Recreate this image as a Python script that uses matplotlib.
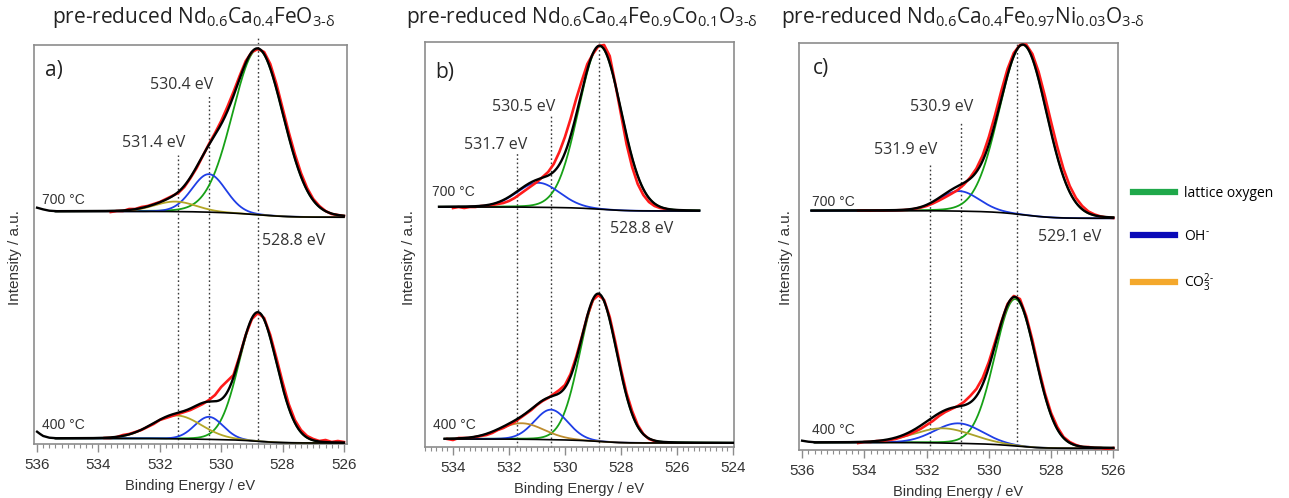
import numpy as np
import matplotlib
matplotlib.use("Agg")
import matplotlib.pyplot as plt
from matplotlib.lines import Line2D
from matplotlib.ticker import MultipleLocator, FormatStrFormatter

plt.rcParams['font.family'] = ['Liberation Sans', 'DejaVu Sans']
plt.rcParams['mathtext.fontset'] = 'custom'
plt.rcParams['mathtext.rm'] = 'Open Sans'
plt.rcParams['mathtext.it'] = 'Open Sans:italic'
plt.rcParams['mathtext.bf'] = 'Open Sans:bold'
SANS = ['Open Sans', 'DejaVu Sans']

W, H = 1289, 498

# ---------------- O 1s fits: (centre / eV, height / a.u., FWHM / eV) ----------------
# (a) Nd0.6Ca0.4FeO3-d
a700_lattice = (528.8, 165.5, 1.95)
a700_oh = (530.4, 38.0, 1.3)
a700_co3 = (531.5, 10.0, 1.6)
a700_window = (535.4, 526.0)
a700_bg = (232.6, 226.8)
a700_edge_be = [536.0, 535.8, 535.6]
a700_edge = [236.3, 234.6, 233.3]
a700_meas_be = np.round(np.arange(533.6, 525.95, -0.2), 1)
a700_meas = [232, 233, 233, 235, 235, 237, 238, 240, 242, 245,
             248, 251, 257, 266, 276, 288, 300, 311, 323, 337,
             352, 368, 383, 392, 395, 392, 380, 360, 336, 312,
             290, 271, 256, 245, 238, 233, 230, 229, 228]

a400_lattice = (528.8, 128.7, 1.45)
a400_oh = (530.4, 22.5, 1.1)
a400_co3 = (531.45, 23.3, 1.9)
a400_window = (535.4, 526.0)
a400_bg = (5.6, 1.0)
a400_edge_be = [536.0, 535.9, 535.8, 535.6]
a400_edge = [12.3, 10.0, 8.0, 6.3]
a400_meas_be = np.round(np.arange(533.8, 525.95, -0.2), 1)
a400_meas = [6, 6, 7, 9, 10, 12, 14, 17, 20, 24,
             26, 28, 30, 32, 34, 37, 40, 44, 49, 57,
             63, 69, 88, 109, 125, 131, 126, 109, 86, 62,
             40, 24, 14, 8, 5, 3, 4, 2, 3, 2]

# (b) Nd0.6Ca0.4Fe0.9Co0.1O3-d
b700_lattice = (528.75, 163.0, 1.8)
b700_oh = (530.95, 24.5, 1.8)
b700_window = (534.5, 525.2)
b700_bg = (240.0, 236.0)
b700_meas_be = np.round(np.arange(534.0, 526.35, -0.2), 1)
b700_meas = [239, 240, 239, 240, 240, 241, 241, 242, 243, 244,
             246, 249, 253, 257, 261, 265, 270, 275, 283, 295,
             310, 328, 348, 366, 383, 393, 401, 402, 391, 363,
             333, 303, 280, 263, 252, 245, 241, 239, 238]

b400_lattice = (528.8, 147.0, 1.55)
b400_oh = (530.5, 30.0, 1.4)
b400_co3 = (531.55, 16.0, 1.9)
b400_window = (534.3, 524.0)
b400_bg = (8.0, 4.0)
b400_meas_be = np.round(np.arange(534.2, 526.75, -0.2), 1)
b400_meas = [8, 7, 9, 9, 9, 10, 11, 12, 14, 17,
             19, 22, 25, 29, 33, 37, 42, 46, 49, 53,
             57, 62, 73, 90, 110, 131, 147, 152, 147, 130,
             105, 78, 54, 36, 22, 13, 8, 6]

# (c) Nd0.6Ca0.4Fe0.97Ni0.03O3-d
c700_lattice = (528.9, 170.0, 1.8)
c700_oh = (530.95, 20.0, 1.5)
c700_window = (535.7, 526.0)
c700_bg = (239.3, 231.7)
c700_meas_be = np.round(np.arange(534.2, 525.95, -0.2), 1)
c700_meas = [239.5, 239.6, 239.3, 239.6, 239.4, 239.6, 239.7, 239.8, 240.2, 241.0,
             242.3, 244.0, 246.5, 249.5, 252.8, 256.3, 260.0, 265.5, 272.5, 281.5,
             294.5, 313, 335, 359, 381, 397, 405, 405.5, 396, 378,
             354, 328, 303, 281, 264, 252, 244, 238.5, 235.5, 233.5,
             232.5, 232]

c400_lattice = (529.15, 147.0, 1.55)
c400_oh = (530.98, 20.0, 1.8)
c400_co3 = (531.47, 14.7, 2.2)
c400_window = (535.6, 526.0)
c400_bg = (7.5, 1.7)
c400_edge_be = [536.0, 535.8]
c400_edge = [9.3, 8.3]
c400_meas_be = np.round(np.arange(534.2, 525.95, -0.2), 1)
c400_meas = [7, 8, 8, 9, 9, 10, 11, 13, 15, 18,
             21, 25, 29, 34, 38, 41, 44, 48, 54, 61,
             72, 88, 108, 128, 146, 154, 151, 134, 110, 82,
             57, 37, 23, 13, 8, 5, 3, 3, 2, 2,
             1, 2]

# peak positions marked with dotted lines
a_marks = [531.4, 530.4, 528.8]
b_marks = [531.7, 530.5, 528.8]
c_marks = [531.9, 530.9, 529.1]

titles = [
    r'pre-reduced Nd$_{\text{0.6}}$Ca$_{\text{0.4}}$FeO$_{\text{3-δ}}$',
    r'pre-reduced Nd$_{\text{0.6}}$Ca$_{\text{0.4}}$Fe$_{\text{0.9}}$Co$_{\text{0.1}}$O$_{\text{3-δ}}$',
    r'pre-reduced Nd$_{\text{0.6}}$Ca$_{\text{0.4}}$Fe$_{\text{0.97}}$Ni$_{\text{0.03}}$O$_{\text{3-δ}}$',
]
legend_labels = ['lattice oxygen', r'OH$^{\text{-}}$', r'CO$_{\text{3}}^{\text{2-}}$']

GREEN, BLUE, RED = '#17a117', '#1f3ee6', '#ff1a1a'
YELLOWS = ['#b3a626', '#bd8c2e', '#aaa22a']
LEGEND_COLOURS = ['#1fa84a', '#0a0ab8', '#f4a82c']


def gl(be, peak, mix=0.05):
    centre, height, fwhm = peak
    x = (be - centre) / fwhm
    return height * ((1 - mix) * np.exp(-4 * np.log(2) * x ** 2) + mix / (1 + 4 * x ** 2))


def fitted(window, bg_ends, peaks):
    be = np.linspace(window[0], window[1], 1500)
    comps = [gl(be, p) for p in peaks]
    total = np.sum(comps, axis=0)
    # Shirley-type step: grows with the peak area counted from the low-BE end
    area = np.cumsum(total[::-1])[::-1]
    bg = bg_ends[1] + (bg_ends[0] - bg_ends[1]) * area / area[0]
    return be, bg, comps, bg + total


def draw_spectrum(ax, window, bg_ends, peaks, yellow, meas_be, meas, edge_be=None, edge=None):
    be, bg, comps, env = fitted(window, bg_ends, peaks)
    for comp, col in zip(comps, [GREEN, BLUE, yellow]):
        ax.plot(be, bg + comp, color=col, lw=1.3, zorder=3)
    ax.plot(meas_be, meas, color=RED, lw=1.9, zorder=4, solid_joinstyle='round')
    ax.plot(be, bg, color='black', lw=1.2, zorder=5)
    if edge is not None:
        be = np.concatenate([edge_be, be])
        env = np.concatenate([edge, env])
    ax.plot(be, env, color='black', lw=1.7, zorder=6)


def make_axes(l, t, r, b):
    ax = fig.add_axes([l / W, 1 - b / H, (r - l) / W, (b - t) / H])
    ax.set_ylim(0, b - t)
    ax.set_yticks([])
    for s in ax.spines.values():
        s.set_color('#8c8c8c')
        s.set_linewidth(1.2)
    ax.xaxis.set_major_locator(MultipleLocator(2))
    ax.xaxis.set_minor_locator(MultipleLocator(0.2))
    ax.xaxis.set_major_formatter(FormatStrFormatter('%d'))
    ax.tick_params(axis='x', which='major', length=6, width=1.0, color='#8c8c8c',
                   labelsize=11, labelcolor='#333333', pad=4)
    ax.tick_params(axis='x', which='minor', length=3, width=0.8, color='#8c8c8c')
    ax.set_xlabel('Binding Energy / eV', fontsize=10.5, color='#333333', labelpad=5)
    return ax


def mark_lines(ax, marks, tops):
    for v, top in zip(marks, tops):
        ax.plot([v, v], [0, top], color='#3a3a3a', lw=1.0, ls=(0, (1.2, 1.8)),
                clip_on=False, zorder=1)


def annotate_panel(ax, marks, mark_xy, temp_xy, letter, letter_xy):
    kw = dict(va='center', fontsize=11.5, family=SANS, color='#333333')
    ax.text(*mark_xy[0], f'{marks[0]} eV', ha='right', **kw)
    ax.text(*mark_xy[1], f'{marks[1]} eV', ha='right', **kw)
    ax.text(*mark_xy[2], f'{marks[2]} eV', ha='left', **kw)
    ax.text(*temp_xy[0], '700 °C', ha='left', va='center', fontsize=10, color='#333333')
    ax.text(*temp_xy[1], '400 °C', ha='left', va='center', fontsize=10, color='#333333')
    ax.text(*letter_xy, letter, ha='left', va='center', fontsize=15, family=SANS, color='#222222')


fig = plt.figure(figsize=(W / 100, H / 100), dpi=100)

# ---- panel a ----
axa = make_axes(34, 45, 347, 444)
axa.set_xlim(536.1, 525.9)
draw_spectrum(axa, a700_window, a700_bg, [a700_lattice, a700_oh, a700_co3], YELLOWS[0],
              a700_meas_be, a700_meas, a700_edge_be, a700_edge)
draw_spectrum(axa, a400_window, a400_bg, [a400_lattice, a400_oh, a400_co3], YELLOWS[0],
              a400_meas_be, a400_meas, a400_edge_be, a400_edge)
mark_lines(axa, a_marks, [289, 349, 406])
annotate_panel(axa, a_marks, [(531.18, 301), (530.27, 359), (528.67, 203)],
               [(535.84, 244), (535.84, 19)], 'a)', (535.74, 374))

# ---- panel b ----
axb = make_axes(425, 42, 734, 447)
axb.set_xlim(535.0, 523.96)
draw_spectrum(axb, b700_window, b700_bg, [b700_lattice, b700_oh], YELLOWS[1],
              b700_meas_be, b700_meas)
draw_spectrum(axb, b400_window, b400_bg, [b400_lattice, b400_oh, b400_co3], YELLOWS[1],
              b400_meas_be, b400_meas)
mark_lines(axb, b_marks, [295, 332, 407])
annotate_panel(axb, b_marks, [(531.36, 302), (530.36, 340), (528.39, 218)],
               [(534.75, 255), (534.71, 22)], 'b)', (534.64, 375))

# ---- panel c ----
axc = make_axes(799, 43, 1118, 450)
axc.set_xlim(536.1, 525.85)
draw_spectrum(axc, c700_window, c700_bg, [c700_lattice, c700_oh], YELLOWS[2],
              c700_meas_be, c700_meas)
draw_spectrum(axc, c400_window, c400_bg, [c400_lattice, c400_oh, c400_co3], YELLOWS[2],
              c400_meas_be, c400_meas, c400_edge_be, c400_edge)
mark_lines(axc, c_marks, [287, 328, 407])
annotate_panel(axc, c_marks, [(531.66, 300), (530.5, 343), (528.41, 213)],
               [(535.68, 248), (535.68, 20)], 'c)', (535.65, 382))

# titles and intensity labels
for x, t in zip([194, 582, 963], titles):
    fig.text(x / W, 1 - 18 / H, t, ha='center', va='center', fontsize=15, family=SANS, color='#222222')
for x in [15, 409, 786]:
    fig.text(x / W, 1 - 258 / H, 'Intensity / a.u.', rotation=90, ha='center', va='center',
             fontsize=11, color='#333333')

# component legend
handles = [Line2D([], [], color=c, lw=4.5) for c in LEGEND_COLOURS]
fig.legend(handles, legend_labels, loc='upper left', bbox_to_anchor=(1133 / W, 1 - 186 / H),
           frameon=False, handlelength=3.0, handletextpad=0.7,
           labelspacing=2.0, borderpad=0, borderaxespad=0, prop={'family': SANS, 'size': 10})

fig.savefig('out.png', dpi=100)
